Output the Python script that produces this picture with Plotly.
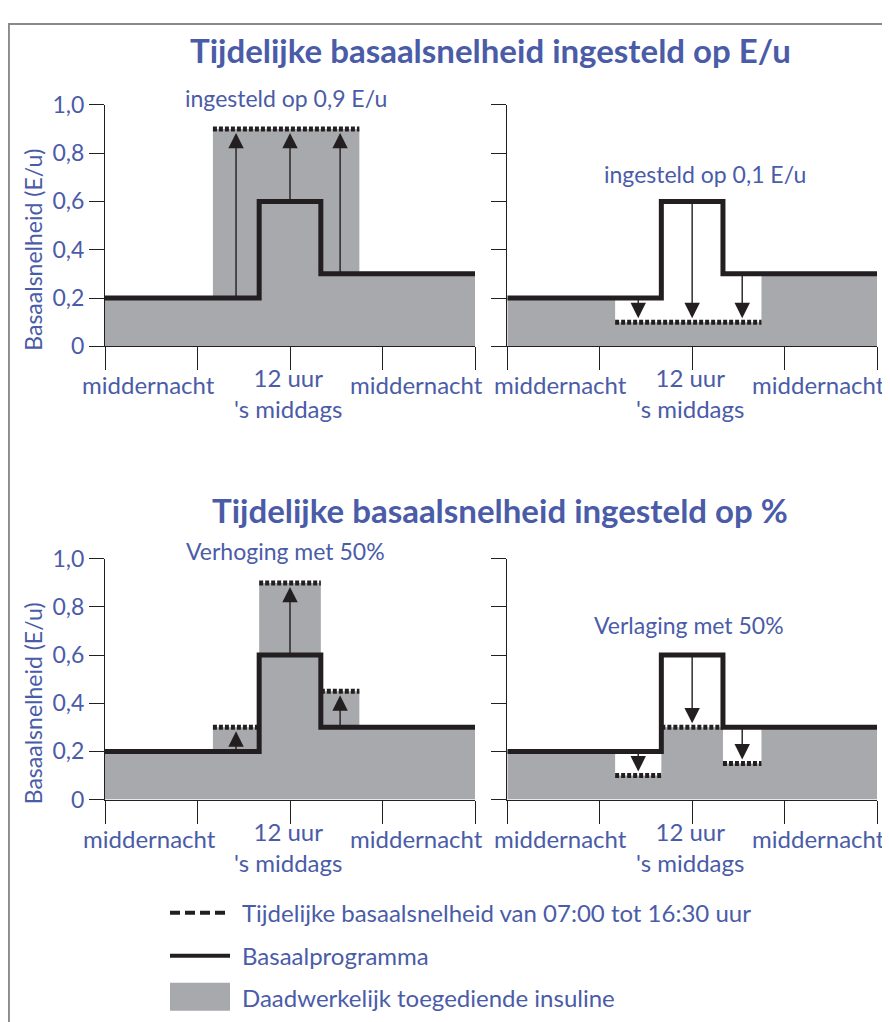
import plotly.graph_objects as go

# ---- data ----
basal_hours = [0, 10, 14, 24]
basal_rate = [0.2, 0.6, 0.3, 0.3]

temp_start, temp_end = 7, 16.5

abs_hours = [0, 7, 16.5, 24]
abs_up_rate = [0.2, 0.9, 0.3, 0.3]      # ingesteld op 0,9 E/u
abs_down_rate = [0.2, 0.1, 0.3, 0.3]    # ingesteld op 0,1 E/u

pct_hours = [0, 7, 10, 14, 16.5, 24]
pct_up_rate = [0.2, 0.3, 0.9, 0.45, 0.3, 0.3]    # verhoging met 50%
pct_down_rate = [0.2, 0.1, 0.3, 0.15, 0.3, 0.3]  # verlaging met 50%

arrow_hours = [8.5, 12, 15.25]

y_ticks = [0, 0.2, 0.4, 0.6, 0.8, 1.0]
y_ticktext = ["0", "0,2", "0,4", "0,6", "0,8", "1,0"]
x_ticks = [0, 6, 12, 18, 24]

BLUE = "#4a5ca8"
INK = "#231f20"
GRAY = "#a7a9ac"
FONT = "Lato"

W, H = 890, 1022


# picture pixel -> paper coords (page shows the figure shifted/squeezed a little)
def px(X):
    return (X - 8) / W


def py(Y):
    return 1 - ((Y - 21.4) / 0.9735) / H


def level(hours, rates, t):
    val = rates[0]
    for h, r in zip(hours, rates):
        if h <= t:
            val = r
    return val


panels = [
    dict(hours=abs_hours, rate=abs_up_rate, note="ingesteld op 0,9 E/u", note_x=11.74, note_y=1.03, left_lbl=2.8),
    dict(hours=abs_hours, rate=abs_down_rate, note="ingesteld op 0,1 E/u", note_x=12.82, note_y=0.712, left_lbl=3.45),
    dict(hours=pct_hours, rate=pct_up_rate, note="Verhoging met 50%", note_x=11.68, note_y=1.032, left_lbl=2.9),
    dict(hours=pct_hours, rate=pct_down_rate, note="Verlaging met 50%", note_x=11.79, note_y=0.725, left_lbl=3.45),
]

# plot areas in picture pixels (x0, x1, y_top, y_bottom)
boxes = [(105, 475, 103.3, 345), (507.3, 877, 103.3, 345),
         (105, 475, 557.7, 798.7), (507.3, 877, 557.7, 798.7)]

fig = go.Figure()
annotations = []
lbl = dict(family=FONT, size=23, color=BLUE)
xlbl = dict(family=FONT, size=24, color=BLUE)

for i, (p, box) in enumerate(zip(panels, boxes)):
    n = "" if i == 0 else str(i + 1)
    xa, ya = "x" + n, "y" + n
    x0, x1, yt, yb = box
    fig.update_layout({
        "xaxis" + n: dict(domain=[px(x0), px(x1)], anchor=ya, range=[0, 24],
                          tickvals=x_ticks, showticklabels=False, ticks="outside",
                          ticklen=23, tickwidth=1.2, tickcolor=INK, showline=True,
                          linecolor=INK, linewidth=1.2, showgrid=False, zeroline=False,
                          fixedrange=True),
        "yaxis" + n: dict(domain=[py(yb), py(yt)], anchor=xa, range=[0, 1],
                          tickvals=y_ticks, ticktext=y_ticktext,
                          showticklabels=(i % 2 == 0), ticks="outside", ticklen=15,
                          tickwidth=1.2, tickcolor=INK, showline=True, linecolor=INK,
                          linewidth=1.2, showgrid=False, zeroline=False,
                          tickfont=lbl, fixedrange=True),
    })

    hrs, rts = p["hours"], p["rate"]

    # delivered insulin (grey area)
    fig.add_trace(go.Scatter(x=hrs, y=rts, xaxis=xa, yaxis=ya,
                             mode="lines", line=dict(width=0, shape="hv"),
                             fill="tozeroy", fillcolor=GRAY, showlegend=False,
                             hoverinfo="skip"))

    # temporary basal rate (dotted)
    sx, sy = [], []
    for k in range(len(hrs) - 1):
        if hrs[k] >= temp_start and hrs[k + 1] <= temp_end:
            sx += [hrs[k], hrs[k + 1], None]
            sy += [rts[k], rts[k], None]
    fig.add_trace(go.Scatter(x=sx, y=sy, xaxis=xa, yaxis=ya, mode="lines",
                             line=dict(color=INK, width=5, dash="4px,2px"),
                             showlegend=False, hoverinfo="skip"))

    # basal programme
    fig.add_trace(go.Scatter(x=basal_hours, y=basal_rate, xaxis=xa, yaxis=ya,
                             mode="lines", line=dict(color=INK, width=5, shape="hv"),
                             showlegend=False, hoverinfo="skip"))

    # arrows from basal programme to temporary level
    for t in arrow_hours:
        b = level(basal_hours, basal_rate, t)
        v = level(hrs, rts, t)
        annotations.append(dict(x=t, y=v, ax=t, ay=b, xref=xa, yref=ya, axref=xa, ayref=ya,
                                showarrow=True, arrowhead=2, arrowsize=2.2, arrowwidth=1.4,
                                arrowcolor=INK, standoff=4, text=""))

    # x labels and panel note
    yd = ya + " domain"
    annotations += [
        dict(x=p["left_lbl"], y=-0.16, xref=xa, yref=yd, text="middernacht", showarrow=False,
             font=xlbl, xanchor="center", yanchor="middle"),
        dict(x=20.2, y=-0.16, xref=xa, yref=yd, text="middernacht", showarrow=False,
             font=xlbl, xanchor="center", yanchor="middle"),
        dict(x=11.85, y=-0.195, xref=xa, yref=yd, text="12 uur<br>'s middags", showarrow=False,
             font=xlbl, xanchor="center", yanchor="middle"),
        dict(x=p["note_x"], y=p["note_y"], xref=xa, yref=yd, text=p["note"], showarrow=False,
             font=lbl, xanchor="center", yanchor="middle"),
    ]
    if i % 2 == 0:
        annotations.append(dict(x=px(33), y=0.4, xref="paper", yref=yd, text="Basaalsnelheid (E/u)",
                                textangle=-90, showarrow=False, font=lbl,
                                xanchor="center", yanchor="middle"))

# titles
title_font = dict(family=FONT, size=33, color=BLUE, weight="bold")
annotations += [
    dict(x=px(490), y=py(48), xref="paper", yref="paper", showarrow=False,
         xanchor="center", yanchor="middle",
         text="Tijdelijke basaalsnelheid ingesteld op E/u", font=title_font),
    dict(x=px(500), y=py(509), xref="paper", yref="paper", showarrow=False,
         xanchor="center", yanchor="middle",
         text="Tijdelijke basaalsnelheid ingesteld op %", font=title_font),
]

# legend (drawn by hand)
legend_items = ["Tijdelijke basaalsnelheid van 07:00 tot 16:30 uur",
                "Basaalprogramma",
                "Daadwerkelijk toegediende insuline"]
legend_y = [912, 955, 997]
leg_font = dict(family=FONT, size=24, color=BLUE)
for txt, yy in zip(legend_items, legend_y):
    annotations.append(dict(x=px(240), y=py(yy), xref="paper", yref="paper", xanchor="left",
                            yanchor="middle", showarrow=False, text=txt, font=leg_font))

shapes = [
    dict(type="line", xref="paper", yref="paper", x0=px(170), x1=px(230),
         y0=py(912), y1=py(912), line=dict(color=INK, width=4, dash="10px,5px")),
    dict(type="line", xref="paper", yref="paper", x0=px(170), x1=px(230),
         y0=py(955), y1=py(955), line=dict(color=INK, width=4)),
    dict(type="rect", xref="paper", yref="paper", x0=px(170), x1=px(230),
         y0=py(1010), y1=py(982), fillcolor=GRAY, line=dict(width=0)),
    # frame
    dict(type="rect", xref="paper", yref="paper", x0=0.001, x1=1.05,
         y0=-0.05, y1=0.999, line=dict(color="#8a8a8a", width=2)),
]

fig.update_layout(width=W, height=H, margin=dict(l=0, r=0, t=0, b=0),
                  paper_bgcolor="white", plot_bgcolor="white",
                  annotations=annotations, shapes=shapes, showlegend=False)

fig.write_html("out.html")
